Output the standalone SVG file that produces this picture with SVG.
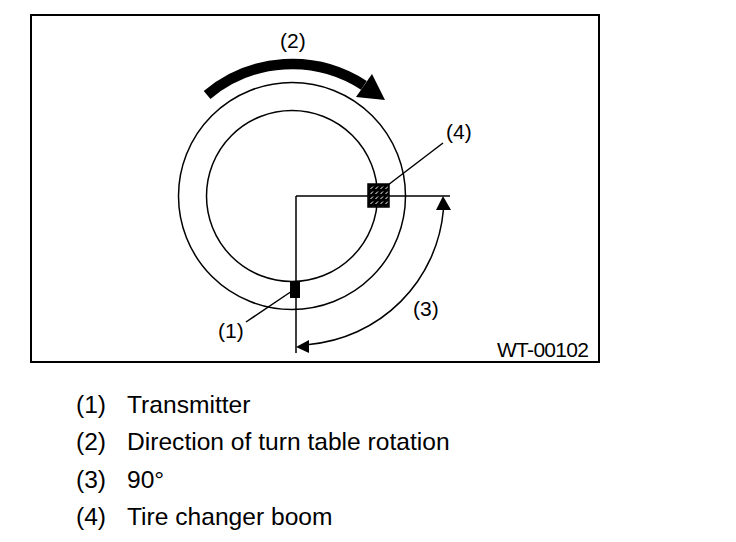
<svg xmlns="http://www.w3.org/2000/svg" width="736" height="542" viewBox="0 0 736 542">
<style>
.ln{fill:none;stroke:#000;stroke-width:1.5}
.lbl{font-family:"Liberation Sans",Arial,sans-serif;font-size:21px;fill:#000}
.leg{font-family:"Liberation Sans",Arial,sans-serif;font-size:24.6px;fill:#000}
</style>
<defs>
<pattern id="hatch" width="5" height="5" patternUnits="userSpaceOnUse">
<rect width="5" height="5" fill="#000"/>
<path d="M0.5,4 L3,1.5" stroke="#fff" stroke-width="1"/>
</pattern>
</defs>
<rect width="736" height="542" fill="#fff"/>
<rect x="31" y="15" width="568" height="347" fill="none" stroke="#000" stroke-width="2"/>
<g id="circles">
<circle cx="292" cy="196" r="113.5" class="ln"/>
<circle cx="292" cy="196" r="85.5" class="ln"/>
</g>
<g id="connectors">
<path class="ln" d="M296,196 H450 M296,196 V353"/>
<path class="ln" d="M443.4,210 A148,148 0 0 1 309,344.4"/>
<polygon points="443,196 436,210 451,210" fill="#000"/>
<polygon points="296,347 309,340 309,353" fill="#000"/>
<path class="ln" d="M292,291 L246,322"/>
<path class="ln" d="M388,185 L443,143"/>
</g>
<g id="rotation-arrow">
<path d="M207.1,94.9 A132,132 0 0 1 363.9,85.3" fill="none" stroke="#000" stroke-width="10.5"/>
<polygon points="372,74 385,100 356,97" fill="#000"/>
<text class="lbl" x="280" y="48">(2)</text>
</g>
<g id="transmitter">
<rect x="290" y="282" width="10" height="16" fill="#000"/>
<text class="lbl" x="218" y="338">(1)</text>
</g>
<g id="boom">
<rect x="368" y="184" width="21" height="23" fill="url(#hatch)" stroke="#000" stroke-width="1.5"/>
<text class="lbl" x="446" y="139">(4)</text>
</g>
<g id="angle">
<text class="lbl" x="413" y="316">(3)</text>
</g>
<text class="lbl" x="497" y="357" font-size="20" textLength="92">WT-00102</text>
<g id="legend">
<text class="leg" x="76" y="413">(1)</text><text class="leg" x="127" y="413">Transmitter</text>
<text class="leg" x="76" y="450">(2)</text><text class="leg" x="127" y="450">Direction of turn table rotation</text>
<text class="leg" x="76" y="488">(3)</text><text class="leg" x="127" y="488">90°</text>
<text class="leg" x="76" y="525">(4)</text><text class="leg" x="127" y="525">Tire changer boom</text>
</g>
</svg>
